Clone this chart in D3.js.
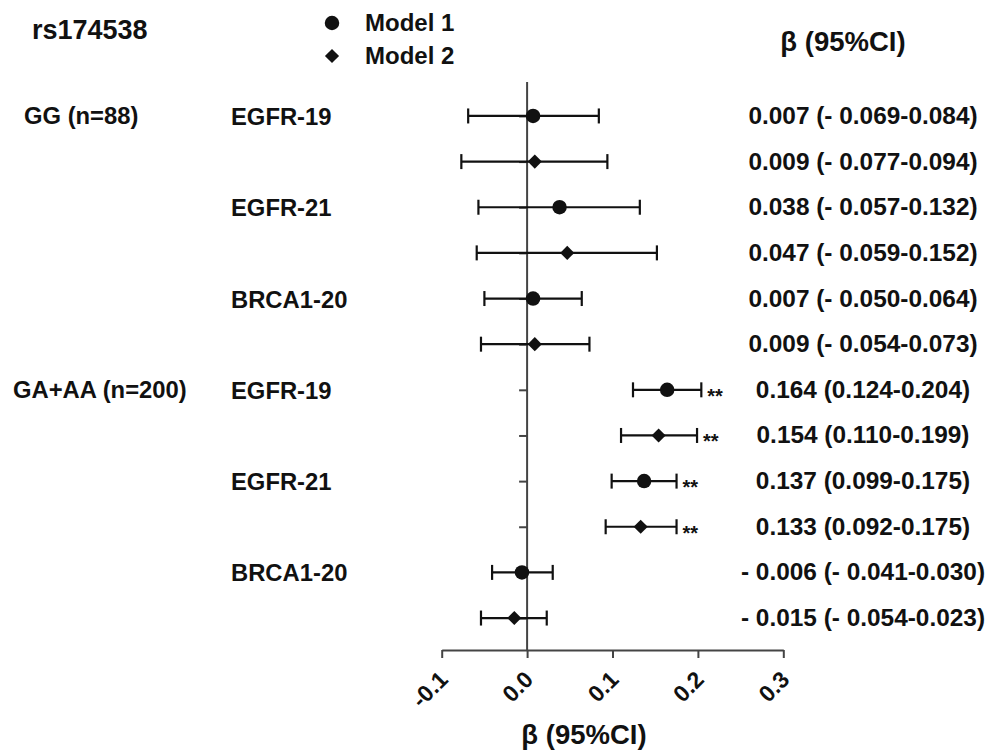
<!DOCTYPE html>
<html>
<head>
<meta charset="utf-8">
<script src="https://cdn.jsdelivr.net/npm/d3@7"></script>
<style>
	body { margin: 0; background: #fff; }
	svg { font-family: "Liberation Sans", Arial, sans-serif; font-weight: bold; }
</style>
</head>
<body>
<svg id="chart" width="987" height="751"></svg>
<script>
// one entry per row, top to bottom
const genes  = ['EGFR-19', '', 'EGFR-21', '', 'BRCA1-20', '', 'EGFR-19', '', 'EGFR-21', '', 'BRCA1-20', ''];
const models = ['Model 1', 'Model 2', 'Model 1', 'Model 2', 'Model 1', 'Model 2', 'Model 1', 'Model 2', 'Model 1', 'Model 2', 'Model 1', 'Model 2'];
const beta   = [0.007, 0.009, 0.038, 0.047, 0.007, 0.009, 0.164, 0.154, 0.137, 0.133, -0.006, -0.015];
const lower  = [-0.069, -0.077, -0.057, -0.059, -0.050, -0.054, 0.124, 0.110, 0.099, 0.092, -0.041, -0.054];
const upper  = [0.084, 0.094, 0.132, 0.152, 0.064, 0.073, 0.204, 0.199, 0.175, 0.175, 0.030, 0.023];
const ciText = ['0.007 (- 0.069-0.084)', '0.009 (- 0.077-0.094)', '0.038 (- 0.057-0.132)', '0.047 (- 0.059-0.152)',
	'0.007 (- 0.050-0.064)', '0.009 (- 0.054-0.073)', '0.164 (0.124-0.204)', '0.154 (0.110-0.199)',
	'0.137 (0.099-0.175)', '0.133 (0.092-0.175)', '- 0.006 (- 0.041-0.030)', '- 0.015 (- 0.054-0.023)'];
const signif = ['', '', '', '', '', '', '**', '**', '**', '**', '', ''];
const groups = [{ label: 'GG (n=88)', row: 0 }, { label: 'GA+AA (n=200)', row: 6 }];
const xTicks = [-0.1, 0.0, 0.1, 0.2, 0.3];

const rows = d3.range(beta.length);
const svg = d3.select('#chart');
const ink = '#111';

const x = d3.scaleLinear().domain([-0.1, 0.3]).range([441.7, 783.3]);
const y = d3.scalePoint().domain(rows).range([84, 650]).padding(0.7);
const sym = {
	'Model 1': d3.symbol(d3.symbolCircle, 165)(),
	'Model 2': d3.symbol(d3.symbolSquare, 100)()
};
const rot = m => m === 'Model 2' ? ' rotate(45)' : '';

// x axis (plain hyphen for negatives, like the original)
const gx = svg.append('g')
	.attr('transform', 'translate(0,650)')
	.call(d3.axisBottom(x).tickValues(xTicks).tickSize(8).tickSizeOuter(0)
		.tickFormat(d => d.toFixed(1)));
gx.select('.domain').attr('stroke', '#444').attr('stroke-width', 2);
gx.selectAll('.tick line').attr('stroke', '#444').attr('stroke-width', 2);
gx.selectAll('.tick text')
	.attr('font-size', 23)
	.attr('font-family', 'Liberation Sans, Arial, sans-serif')
	.attr('font-weight', 'bold')
	.attr('fill', ink)
	.attr('text-anchor', 'end')
	.attr('dy', 0)
	.attr('y', 0)
	.attr('transform', 'translate(7,31) rotate(-45)');

// y axis at beta = 0
const gy = svg.append('g')
	.attr('transform', `translate(${x(0)},0)`)
	.call(d3.axisLeft(y).tickSize(8).tickSizeOuter(0).tickFormat(''));
gy.select('.domain').attr('stroke', '#444').attr('stroke-width', 2).attr('d', 'M0,82V650');
gy.selectAll('.tick line').attr('stroke', '#444').attr('stroke-width', 2);

// error bars
const bars = svg.append('g').attr('stroke', ink).attr('stroke-width', 2.2);
rows.forEach(i => {
	bars.append('line').attr('x1', x(lower[i])).attr('x2', x(upper[i])).attr('y1', y(i)).attr('y2', y(i));
	[lower[i], upper[i]].forEach(v => {
		bars.append('line').attr('x1', x(v)).attr('x2', x(v)).attr('y1', y(i) - 7.5).attr('y2', y(i) + 7.5);
	});
});

// points
svg.append('g').selectAll('path')
	.data(rows)
	.join('path')
	.attr('d', i => sym[models[i]])
	.attr('transform', i => `translate(${x(beta[i])},${y(i)})${rot(models[i])}`)
	.attr('fill', ink);

// significance stars
svg.append('g').selectAll('text')
	.data(rows.filter(i => signif[i]))
	.join('text')
	.attr('x', i => x(upper[i]) + 6)
	.attr('y', i => y(i) + 13)
	.attr('font-size', 20)
	.attr('fill', ink)
	.text(i => signif[i]);

// CI labels
svg.append('g').selectAll('text')
	.data(rows)
	.join('text')
	.attr('x', 863)
	.attr('y', i => y(i) + 8)
	.attr('text-anchor', 'middle')
	.attr('font-size', 24.4)
	.attr('fill', ink)
	.text(i => ciText[i]);

// gene labels
svg.append('g').selectAll('text')
	.data(rows.filter(i => genes[i]))
	.join('text')
	.attr('x', 231)
	.attr('y', i => y(i) + 9)
	.attr('font-size', 23.8)
	.attr('fill', ink)
	.text(i => genes[i]);

// group labels
svg.append('g').selectAll('text')
	.data(groups)
	.join('text')
	.attr('x', (d, i) => i ? 13 : 24)
	.attr('y', d => y(d.row) + 8)
	.attr('font-size', 23.8)
	.attr('fill', ink)
	.text(d => d.label);

// title + headers
svg.append('text').attr('x', 32).attr('y', 39).attr('font-size', 27).attr('fill', ink).text('rs174538');
svg.append('text').attr('x', 843).attr('y', 51).attr('text-anchor', 'middle').attr('font-size', 27.5).attr('fill', ink).text('β (95%CI)');
svg.append('text').attr('x', 584).attr('y', 744).attr('text-anchor', 'middle').attr('font-size', 27.5).attr('fill', ink).text('β (95%CI)');

// legend
const legend = svg.append('g').selectAll('g')
	.data(['Model 1', 'Model 2'])
	.join('g')
	.attr('transform', (d, i) => `translate(332,${23 + i * 33})`);
legend.append('path')
	.attr('d', d => sym[d])
	.attr('transform', d => rot(d).trim())
	.attr('fill', ink);
legend.append('text')
	.attr('x', 33)
	.attr('y', 8)
	.attr('font-size', 24)
	.attr('fill', ink)
	.text(d => d);
</script>
</body>
</html>
